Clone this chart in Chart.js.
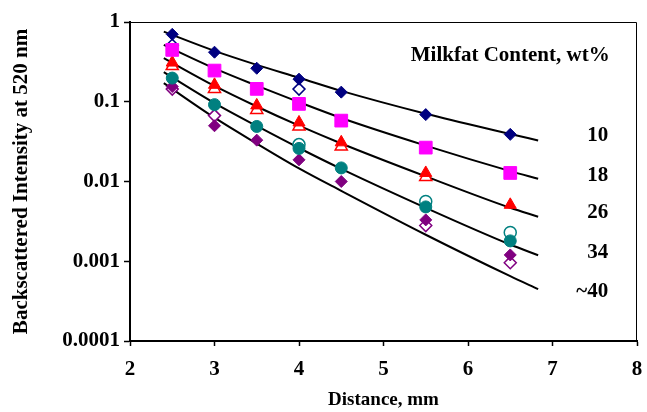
<script src="https://cdn.jsdelivr.net/npm/chart.js"></script>
<style>
    body {
        margin: 0;
        padding: 0;
        background-color: #ffffff;
    }
    .container {
        width: 647px;
        height: 412px;
    }
</style>

<div class="container">
    <canvas id="chart" width="647" height="412"></canvas>
</div>

<script>
    // Measured distances (mm)
    const distances = [2.5, 3, 3.5, 4, 4.5, 5.5, 6.5];

    // Filled markers, one array per milkfat content
    const fat10 = [0.70, 0.418, 0.263, 0.192, 0.132, 0.069, 0.039];
    const fat18 = [0.447, 0.246, 0.145, 0.094, 0.058, 0.0266, 0.0128];
    const fat26 = [0.31, 0.163, 0.090, 0.055, 0.031, 0.0128, 0.0051];
    const fat34 = [0.198, 0.092, 0.049, 0.026, 0.0148, 0.0048, 0.0018];
    const fat40 = [0.155, 0.050, 0.033, 0.0187, 0.010, 0.0033, 0.0012];

    // Open markers (replicate runs), null where hidden
    const open10 = [0.51, null, null, 0.144, null, null, null];
    const open26 = [0.28, 0.145, 0.079, 0.049, 0.0275, 0.0114, null];
    const open34 = [null, null, null, 0.029, null, 0.0056, 0.0023];
    const open40 = [0.144, 0.067, null, null, null, 0.0028, 0.00096];

    // Model fit curves
    const fitDistances = [2.4, 3, 3.5, 4, 4.5, 5.5, 6.5, 6.83];
    const fit10 = [0.756, 0.434, 0.290, 0.200, 0.137, 0.0708, 0.0395, 0.0327];
    const fit18 = [0.516, 0.262, 0.159, 0.0988, 0.0626, 0.0282, 0.0135, 0.0108];
    const fit26 = [0.352, 0.158, 0.0872, 0.0501, 0.0300, 0.0116, 0.00468, 0.00362];
    const fit34 = [0.235, 0.0963, 0.0497, 0.0263, 0.0144, 0.00468, 0.00162, 0.00119];
    const fit40 = [0.171, 0.0631, 0.0299, 0.0146, 0.00763, 0.00215, 0.00065, 0.000447];

    const curveLabels = ['10', '18', '26', '34', '~40'];
    const legendTitle = 'Milkfat Content, wt%';
    const yTicks = [1, 0.1, 0.01, 0.001, 0.0001];
    const yTickLabels = ['1', '0.1', '0.01', '0.001', '0.0001'];

    const FONT = '"Liberation Serif", "Times New Roman", serif';
    const labelShift = [-5, -3, -4, -3, 2];

    // Zip x and y arrays into points, skipping gaps
    function points(xs, ys) {
        return xs.map((x, i) => ({ x: x, y: ys[i] })).filter(p => p.y !== null);
    }

    function markers(ys, style, color, radius, filled) {
        return {
            data: points(distances, ys),
            showLine: false,
            pointStyle: style,
            pointRadius: radius,
            pointHoverRadius: radius,
            pointBackgroundColor: filled ? color : '#ffffff',
            pointBorderColor: color,
            pointBorderWidth: filled ? 1 : 1.5,
            order: filled ? 1 : 2
        };
    }

    function fit(ys) {
        return {
            data: points(fitDistances, ys),
            showLine: true,
            borderColor: '#000000',
            borderWidth: 2,
            pointRadius: 0,
            cubicInterpolationMode: 'monotone',
            order: 3
        };
    }

    const fits = [fit10, fit18, fit26, fit34, fit40];

    // Frame on top/right plus the curve labels
    const framePlugin = {
        id: 'framePlugin',
        afterDraw(chart) {
            const { ctx, chartArea: a, scales } = chart;
            ctx.save();
            ctx.strokeStyle = '#000';
            ctx.lineWidth = 1;
            ctx.beginPath();
            ctx.moveTo(a.left, a.top + 0.5);
            ctx.lineTo(a.right - 0.5, a.top + 0.5);
            ctx.lineTo(a.right - 0.5, a.bottom);
            ctx.stroke();

            ctx.fillStyle = '#000';
            ctx.font = 'bold 21px ' + FONT;
            ctx.textBaseline = 'middle';
            ctx.textAlign = 'center';
            ctx.fillText(legendTitle, scales.x.getPixelForValue(6.5), scales.y.getPixelForValue(0.376));

            ctx.textAlign = 'right';
            fits.forEach((f, i) => {
                const yEnd = scales.y.getPixelForValue(f[f.length - 1]);
                ctx.fillText(curveLabels[i], scales.x.getPixelForValue(7.66), yEnd + labelShift[i]);
            });
            ctx.restore();
        }
    };

    new Chart(document.getElementById('chart').getContext('2d'), {
        type: 'scatter',
        data: {
            datasets: [
                markers(fat10, 'rectRot', '#000080', 6, true),
                markers(fat18, 'rect', '#ff00ff', 9, true),
                markers(fat26, 'triangle', '#ff0000', 7, true),
                markers(fat34, 'circle', '#008080', 6, true),
                markers(fat40, 'rectRot', '#800080', 6, true),
                markers(open10, 'rectRot', '#000080', 6, false),
                markers(open26, 'triangle', '#ff0000', 7, false),
                markers(open34, 'circle', '#008080', 6, false),
                markers(open40, 'rectRot', '#800080', 6, false),
                fit(fit10), fit(fit18), fit(fit26), fit(fit34), fit(fit40)
            ]
        },
        options: {
            responsive: false,
            animation: false,
            layout: { padding: { top: 22, right: 7, left: 0, bottom: 0 } },
            plugins: {
                legend: { display: false },
                tooltip: { enabled: false }
            },
            scales: {
                x: {
                    type: 'linear',
                    min: 2,
                    max: 8,
                    afterFit: s => { s.height = 71; s.paddingRight = 0; },
                    ticks: {
                        stepSize: 1,
                        color: '#000',
                        padding: 11,
                        font: { family: FONT, size: 21, weight: 'bold' }
                    },
                    grid: { drawOnChartArea: false, tickLength: 5, tickColor: '#000', tickWidth: 1.5 },
                    border: { color: '#000', width: 2 },
                    title: {
                        display: true,
                        text: 'Distance, mm',
                        color: '#000',
                        padding: { top: 0, bottom: 1 },
                        font: { family: FONT, size: 19, weight: 'bold' }
                    }
                },
                y: {
                    type: 'logarithmic',
                    min: 0.0001,
                    max: 1,
                    afterFit: s => { s.width = 130; },
                    afterBuildTicks: s => { s.ticks = yTicks.map(v => ({ value: v })); },
                    ticks: {
                        color: '#000',
                        padding: 4,
                        callback: v => yTickLabels[yTicks.indexOf(v)],
                        font: { family: FONT, size: 21, weight: 'bold' }
                    },
                    grid: { drawOnChartArea: false, tickLength: 6, tickColor: '#000', tickWidth: 1.5 },
                    border: { color: '#000', width: 2 },
                    title: {
                        display: true,
                        text: 'Backscattered Intensity at 520 nm',
                        color: '#000',
                        padding: { top: 9, bottom: 0 },
                        font: { family: FONT, size: 21, weight: 'bold' }
                    }
                }
            }
        },
        plugins: [framePlugin]
    });
</script>
